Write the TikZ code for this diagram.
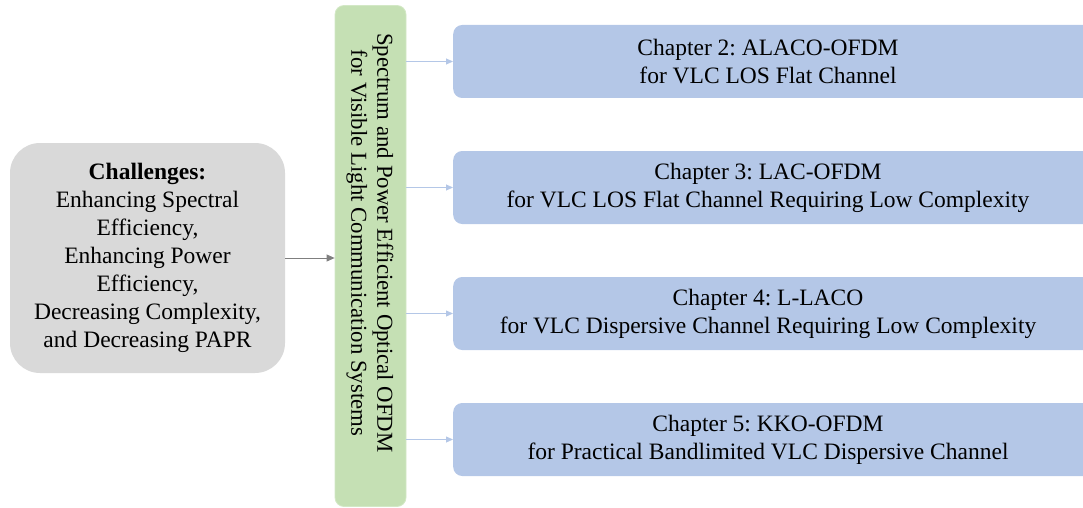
\documentclass[tikz,border=0pt]{standalone}
\usepackage{fontspec}
\setmainfont{Liberation Serif}
\frenchspacing
\usetikzlibrary{arrows.meta}
\definecolor{grayfill}{HTML}{D9D9D9}
\definecolor{greenfill}{HTML}{C5E0B4}
\definecolor{greenline}{HTML}{D3E8C6}
\definecolor{bluefill}{HTML}{B4C7E7}
\definecolor{bluearrow}{HTML}{B4C7E7}
\definecolor{grayarrow}{HTML}{7F7F7F}
\begin{document}
\begin{tikzpicture}[x=1pt,y=-1pt,
  txt/.style={font=\fontsize{23.5}{28}\selectfont, align=center, text=black},
  vtxt/.style={font=\fontsize{22.8}{26}\selectfont, align=center, text=black},
  chapbox/.style={fill=bluefill, draw=none, rounded corners=9pt, minimum width=640pt, minimum height=73pt, anchor=west, inner sep=0pt},
  bluearr/.style={draw=bluearrow, line width=0.8pt, -{Triangle[length=7pt,width=6pt]}},
  grayarr/.style={draw=grayarrow, line width=0.8pt, -{Triangle[length=8pt,width=7pt]}}
]
\useasboundingbox (0,0) rectangle (1083,508);
\clip (0,0) rectangle (1083,508);
% left box
\node[fill=grayfill, rounded corners=30pt, minimum width=275pt, minimum height=230pt, inner sep=0pt, txt] (ch) at (147.5,258)
  {\textbf{Challenges:}\\Enhancing Spectral\\Efficiency,\\Enhancing Power\\Efficiency,\\Decreasing Complexity,\\and Decreasing PAPR};
% green box
\node[fill=greenfill, draw=greenline, line width=0.8pt, rounded corners=9pt, minimum width=71pt, minimum height=501pt, inner sep=0pt] (gr) at (370.5,256) {};
\node[vtxt, rotate=-90] (grt) at (370,243) {Spectrum and Power Efficient Optical OFDM\\for Visible Light Communication Systems};
% chapter boxes
\node[chapbox] (c2) at (453,61.5) {};
\node[txt] (c2t) at (768,62) {Chapter 2: ALACO-OFDM\\for VLC LOS Flat Channel};
\node[chapbox] (c3) at (453,187.5) {};
\node[txt] (c3t) at (768,188) {Chapter 3: LAC-OFDM\\for VLC LOS Flat Channel Requiring Low Complexity};
\node[chapbox] (c4) at (453,313.5) {};
\node[txt] (c4t) at (768,314) {Chapter 4: L-LACO\\for VLC Dispersive Channel Requiring Low Complexity};
\node[chapbox] (c5) at (453,439.5) {};
\node[txt] (c5t) at (768,440) {Chapter 5: KKO-OFDM\\for Practical Bandlimited VLC Dispersive Channel};
% arrows
\draw[grayarr] (ch.east) -- (gr.west |- ch.east);
\foreach \c in {c2,c3,c4,c5}{
  \draw[bluearr] (gr.east |- \c.west) -- (\c.west);
}
\end{tikzpicture}
\end{document}
